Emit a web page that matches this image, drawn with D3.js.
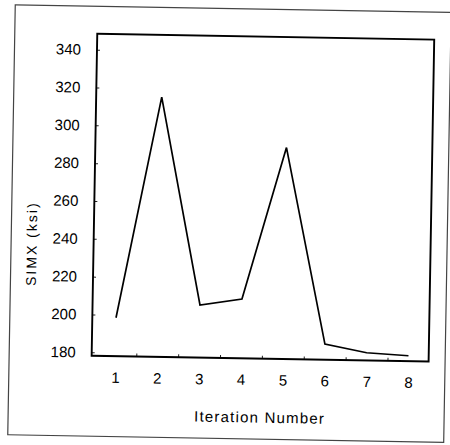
<html>
<head>
  <script type="text/javascript" src="https://d3js.org/d3.v7.min.js"></script>
  <style>
      body { margin: 0; background: #fff; }
      svg { display: block; }
      .tick text { font-family: "Liberation Sans", Arial, sans-serif; font-size: 15px; fill: #000; }
  </style>
</head>
<body>
<div id="chart"></div>
<script>
    // values
    let iterations = [1, 2, 3, 4, 5, 6, 7, 8];
    let simx = [198.5, 315.5, 206, 209.5, 290, 186.5, 182.3, 181.1];
    let yTicks = [180, 200, 220, 240, 260, 280, 300, 320, 340];
    let xMinorTicks = [1.5, 2.5, 3.5, 4.5, 5.5, 6.5, 7.5];

    let width = 450;
    let height = 445;
    let frame = {left: 94, right: 431, top: 36, bottom: 358};

    const svg = d3.select('#chart')
        .append('svg')
        .attr('width', width)
        .attr('height', height);

    // the scan is tilted by about a degree
    const g = svg.append('g')
        .attr('transform', 'rotate(1, 225, 222)');

    // outer page border
    g.append('rect')
        .attr('x', 11.5).attr('y', 8.5)
        .attr('width', 436).attr('height', 430)
        .attr('fill', 'none')
        .attr('stroke', '#444')
        .attr('stroke-width', 1.2);

    const xScale = d3.scaleLinear()
        .domain([0.434, 8.483])
        .range([frame.left, frame.right]);

    const yScale = d3.scaleLinear()
        .domain([178.2, 348.4])
        .range([frame.bottom, frame.top]);

    // y axis: small inward ticks
    const yAxis = g.append('g')
        .attr('transform', `translate(${frame.left},0)`)
        .call(d3.axisLeft(yScale).tickValues(yTicks).tickSize(-3).tickPadding(16));
    yAxis.select('.domain').remove();
    yAxis.selectAll('line').attr('stroke', '#222');

    // x axis: labels at integers, small ticks at the halves
    const xAxis = g.append('g')
        .attr('transform', `translate(0,${frame.bottom})`)
        .call(d3.axisBottom(xScale).tickValues(iterations).tickSize(0).tickPadding(16).tickFormat(d3.format('d')));
    xAxis.select('.domain').remove();

    const xMinor = g.append('g')
        .attr('transform', `translate(0,${frame.bottom})`)
        .call(d3.axisBottom(xScale).tickValues(xMinorTicks).tickSize(-3).tickFormat(''));
    xMinor.select('.domain').remove();
    xMinor.selectAll('line').attr('stroke', '#222');

    // plot frame
    g.append('rect')
        .attr('x', frame.left).attr('y', frame.top)
        .attr('width', frame.right - frame.left)
        .attr('height', frame.bottom - frame.top)
        .attr('fill', 'none')
        .attr('stroke', '#000')
        .attr('stroke-width', 1.9);

    const line = d3.line()
        .x((d, i) => xScale(iterations[i]))
        .y(d => yScale(d));

    g.append('path')
        .datum(simx)
        .attr('d', line)
        .attr('fill', 'none')
        .attr('stroke', '#000')
        .attr('stroke-width', 1.7)
        .attr('stroke-linejoin', 'miter');

    // axis titles
    g.append('text')
        .attr('x', 263)
        .attr('y', 422)
        .attr('text-anchor', 'middle')
        .attr('font-family', '"Liberation Sans", Arial, sans-serif')
        .attr('font-size', 15)
        .attr('letter-spacing', 1.2)
        .attr('fill', '#000')
        .text('Iteration Number');

    g.append('text')
        .attr('transform', 'translate(37,247) rotate(-90)')
        .attr('text-anchor', 'middle')
        .attr('font-family', '"Liberation Sans", Arial, sans-serif')
        .attr('font-size', 14)
        .attr('letter-spacing', 2)
        .attr('fill', '#000')
        .text('SIMX (ksi)');
</script>
</body>
</html>
